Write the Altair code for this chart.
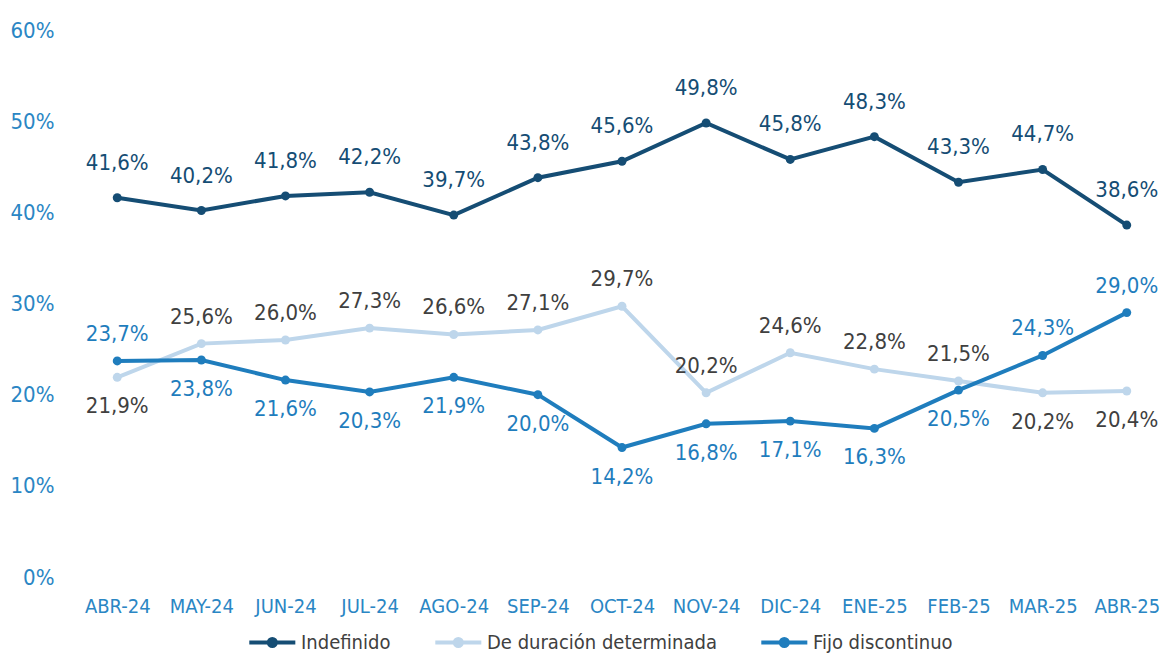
import altair as alt
import pandas as pd

months = ["ABR-24", "MAY-24", "JUN-24", "JUL-24", "AGO-24", "SEP-24", "OCT-24",
          "NOV-24", "DIC-24", "ENE-25", "FEB-25", "MAR-25", "ABR-25"]
indefinido = [41.6, 40.2, 41.8, 42.2, 39.7, 43.8, 45.6, 49.8, 45.8, 48.3, 43.3, 44.7, 38.6]
duracion = [21.9, 25.6, 26.0, 27.3, 26.6, 27.1, 29.7, 20.2, 24.6, 22.8, 21.5, 20.2, 20.4]
fijo = [23.7, 23.8, 21.6, 20.3, 21.9, 20.0, 14.2, 16.8, 17.1, 16.3, 20.5, 24.3, 29.0]
series = ["Indefinido", "De duración determinada", "Fijo discontinuo"]
line_colors = ["#154d74", "#bed6eb", "#1f7dbd"]
label_colors = ["#154d74", "#404040", "#1f7dbd"]

rows = []
for i, m in enumerate(months):
    vals = [indefinido[i], duracion[i], fijo[i]]
    for s, v in zip(series, vals):
        if s == "Indefinido":
            pos = "top"
        elif s == "De duración determinada":
            pos = "top" if duracion[i] > fijo[i] else "bottom"
        else:
            pos = "top" if fijo[i] > duracion[i] else "bottom"
        rows.append({"mes": m, "serie": s, "valor": v / 100.0,
                     "label": f"{v:.1f}%".replace(".", ","), "pos": pos})
df = pd.DataFrame(rows)

FONT = "DejaVu Sans Condensed"
LEGEND_SYMBOL = ("M-1,0H4M1.88,0A0.38,0.38 0 1,1 1.12,0"
                 "A0.38,0.38 0 1,1 1.88,0")

x = alt.X("mes:N", sort=months, title=None,
          scale=alt.Scale(type="point", padding=0.3),
          axis=alt.Axis(labelAngle=0, labelFontSize=20, labelColor="#2a86c4",
                        labelFont=FONT, domain=False, ticks=False, labelPadding=19))
y = alt.Y("valor:Q", title=None,
          scale=alt.Scale(domain=[0, 0.6]),
          axis=alt.Axis(format=".0%", values=[0, 0.1, 0.2, 0.3, 0.4, 0.5, 0.6],
                        labelFontSize=22, labelColor="#2a86c4", labelFont=FONT,
                        domain=False, ticks=False, grid=False, labelPadding=38))
color = alt.Color("serie:N", sort=series, title=None,
                  scale=alt.Scale(domain=series, range=line_colors),
                  legend=alt.Legend(orient="none", direction="horizontal",
                                    legendX=155, legendY=601, padding=0,
                                    labelFontSize=20, labelColor="#404040",
                                    labelFont=FONT, columnPadding=36,
                                    symbolType=LEGEND_SYMBOL,
                                    symbolSize=339, symbolStrokeWidth=4,
                                    labelOffset=31, labelLimit=400))

base = alt.Chart(df)
lines = base.mark_line(strokeWidth=4).encode(x=x, y=y, color=color)
points = base.mark_circle(size=80, opacity=1).encode(
    x=x, y=y,
    color=alt.Color("serie:N", sort=series, scale=alt.Scale(domain=series, range=line_colors), legend=None))

lab_color = alt.Color("serie:N", scale=alt.Scale(domain=series, range=label_colors), legend=None)
top_ind = base.transform_filter("datum.serie == 'Indefinido'").mark_text(
    dy=-35, fontSize=22, font=FONT).encode(x=x, y=y, text="label:N", color=lab_color)
top_other = base.transform_filter("datum.serie != 'Indefinido' && datum.pos == 'top'").mark_text(
    dy=-27, fontSize=22, font=FONT).encode(x=x, y=y, text="label:N", color=lab_color)
bottom = base.transform_filter("datum.pos == 'bottom'").mark_text(
    dy=29, fontSize=22, font=FONT).encode(x=x, y=y, text="label:N", color=lab_color)

chart = alt.layer(lines, points, top_ind, top_other, bottom).resolve_scale(
    color="independent"
).properties(
    width=1060, height=547,
    padding={"top": 11, "left": 2, "right": 0, "bottom": 0},
).configure_view(stroke=None)

chart.save("out.html", embed_options={"renderer": "svg", "actions": False})
